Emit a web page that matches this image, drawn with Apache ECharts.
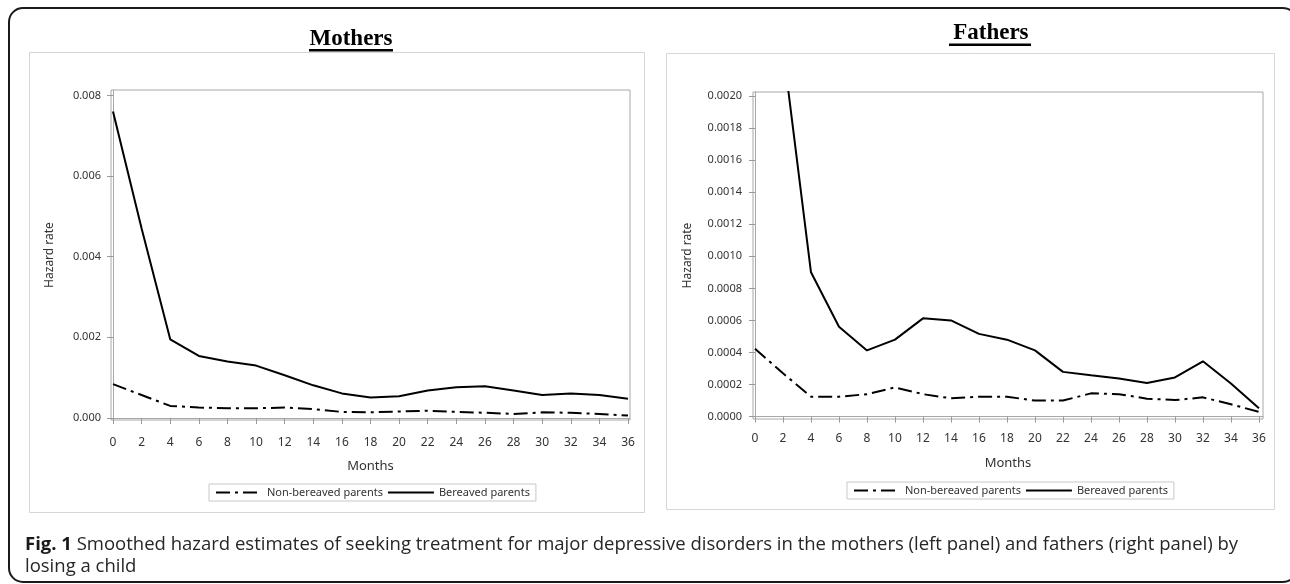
<!DOCTYPE html>
<html><head><meta charset="utf-8">
<script src="https://cdn.jsdelivr.net/npm/echarts@6/dist/echarts.min.js"></script>
<style>html,body{margin:0;padding:0;background:#fff}#c{width:1290px;height:584px}</style>
</head><body><div id="c"></div>
<script>
// ---- data ----
const months = [0,2,4,6,8,10,12,14,16,18,20,22,24,26,28,30,32,34,36];
const mothersNonBereaved = [0.00084,0.00057,0.00030,0.00026,0.00024,0.00024,0.00026,0.00022,0.00015,0.00014,0.00016,0.00018,0.00015,0.00013,0.00010,0.00014,0.00013,0.00010,0.00006];
const mothersBereaved = [0.0076,0.0047,0.00195,0.00154,0.00140,0.00130,0.00106,0.00081,0.00061,0.00051,0.00054,0.00068,0.00076,0.00079,0.00068,0.00057,0.00061,0.00057,0.00048];
const fathersNonBereaved = [0.000424,0.00027,0.000124,0.000124,0.00014,0.000182,0.00014,0.000114,0.000124,0.000124,0.0001,0.0001,0.000145,0.00014,0.000112,0.000103,0.00012,0.000077,0.000029];
const fathersBereaved = [0.0045,0.0023,0.0009,0.00056,0.000413,0.00048,0.000613,0.0006,0.000516,0.00048,0.000413,0.000279,0.000258,0.000238,0.00021,0.000244,0.000345,0.000207,0.000052];
const mothersYTicks = [0,0.002,0.004,0.006,0.008];
const fathersYTicks = [0,0.0002,0.0004,0.0006,0.0008,0.001,0.0012,0.0014,0.0016,0.0018,0.002];
const seriesNames = ['Non-bereaved parents','Bereaved parents'];
const panelTitles = ['Mothers',' Fathers'];
const axisTitles = {x:'Months', y:'Hazard rate'};
const captionBold = 'Fig. 1';
const captionLine1 = ' Smoothed hazard estimates of seeking treatment for major depressive disorders in the mothers (left panel) and fathers (right panel) by';
const captionLine2 = 'losing a child';

// ---- chart ----
const FONT = 'Noto Sans';
const chart = echarts.init(document.getElementById('c'), null, {renderer:'canvas'});
const pairs = arr => months.map((m,i)=>[m,arr[i]]);
const dashDot = [14,5,3,5];

function xAxis(idx, min, max, gap, margin){
  return {
    type:'value', gridIndex: idx, min, max,
    name: axisTitles.x, nameLocation:'middle', nameGap: gap,
    nameTextStyle:{fontFamily:FONT, fontSize:13, color:'#333'},
    axisLine:{show:true, lineStyle:{color:'#a8a8a8', width:1}},
    axisTick:{show:true, inside:false, length:6, customValues: months, lineStyle:{color:'#999'}},
    axisLabel:{show:true, customValues: months, margin, fontFamily:FONT, fontSize:12, color:'#333'},
    splitLine:{show:false}
  };
}
function yAxis(idx, min, max, ticks, dec, gap, margin){
  return {
    type:'value', gridIndex: idx, min, max,
    name: axisTitles.y, nameLocation:'middle', nameGap: gap,
    nameTextStyle:{fontFamily:FONT, fontSize:12, color:'#333'},
    axisLine:{show:true, lineStyle:{color:'#a8a8a8', width:1}},
    axisTick:{show:true, inside:false, length:6, customValues: ticks, lineStyle:{color:'#999'}},
    axisLabel:{show:true, customValues: ticks, margin, fontFamily:FONT, fontSize:11, color:'#333',
      formatter: v => Number(v).toFixed(dec)},
    splitLine:{show:false}
  };
}
function line(name, data, xi, dashed){
  return {
    type:'line', name, xAxisIndex:xi, yAxisIndex:xi, data: pairs(data),
    symbol:'none', clip:true, animation:false,
    lineStyle:{color:'#000', width:2, type: dashed ? dashDot : 'solid'},
    itemStyle:{color:'#000'}
  };
}
function legend(left, top){
  return {
    show:true, left, top, orient:'horizontal',
    data: seriesNames,
    borderColor:'#c8c8c8', borderWidth:1, padding:[3,6,3,6],
    itemWidth:46, itemHeight:10, itemGap:4,
    itemStyle:{color:'rgba(0,0,0,0)', borderColor:'rgba(0,0,0,0)', borderWidth:0, opacity:0},
    textStyle:{fontFamily:FONT, fontSize:11, color:'#333'},
    selectedMode:false
  };
}

const option = {
  backgroundColor:'#fff',
  animation:false,
  grid:[
    {left:111, top:90, width:519, height:330, show:true, borderColor:'#a8a8a8', borderWidth:1, containLabel:false, outerBoundsMode:'none'},
    {left:753, top:92, width:510, height:327, show:true, borderColor:'#a8a8a8', borderWidth:1, containLabel:false, outerBoundsMode:'none'}
  ],
  xAxis:[ xAxis(0, -0.14, 36.14, 40, 17), xAxis(1, -0.143, 36.29, 38, 14) ],
  yAxis:[ yAxis(0, -0.00005, 0.008136, mothersYTicks, 3, 55, 10),
          yAxis(1, -0.000015, 0.002025, fathersYTicks, 4, 59, 11) ],
  legend:[ legend(209, 484), legend(847, 482) ],
  series:[
    line(seriesNames[0], mothersNonBereaved, 0, true),
    line(seriesNames[1], mothersBereaved, 0, false),
    line(seriesNames[0], fathersNonBereaved, 1, true),
    line(seriesNames[1], fathersBereaved, 1, false)
  ],
  graphic:[
    {type:'rect', z:-10, shape:{x:9, y:8, width:1288, height:574, r:14}, style:{fill:'none', stroke:'#1a1a1a', lineWidth:2}},
    {type:'rect', z:-5, shape:{x:29.5, y:52.5, width:615, height:460}, style:{fill:'none', stroke:'#d6d6d6', lineWidth:1}},
    {type:'rect', z:-5, shape:{x:666.5, y:53.5, width:608, height:456}, style:{fill:'none', stroke:'#d6d6d6', lineWidth:1}},
    {type:'text', x:351, y:39, style:{text:panelTitles[0], font:'bold 23px "Liberation Serif"', fill:'#000', align:'center', verticalAlign:'middle', textAlign:'center', textVerticalAlign:'middle'}},
    {type:'rect', shape:{x:309, y:49, width:84, height:2.5}, style:{fill:'#000'}},
    {type:'text', x:988, y:33, style:{text:panelTitles[1], font:'bold 23px "Liberation Serif"', fill:'#000', align:'center', verticalAlign:'middle', textAlign:'center', textVerticalAlign:'middle'}},
    {type:'rect', shape:{x:949, y:43.5, width:82, height:2.5}, style:{fill:'#000'}},
    {type:'text', x:25, y:545, style:{text:'{b|'+captionBold+'}'+captionLine1, rich:{b:{fontWeight:'bold', fontFamily:'Open Sans', fontSize:18.5, fill:'#1a1a1a'}},
      fontFamily:'Open Sans', fontSize:18.5, fill:'#262626', align:'left', verticalAlign:'middle', textAlign:'left', textVerticalAlign:'middle'}},
    {type:'text', x:25, y:567, style:{text:captionLine2, fontFamily:'Open Sans', fontSize:18.5, fill:'#262626', align:'left', verticalAlign:'middle', textAlign:'left', textVerticalAlign:'middle'}}
  ]
};
chart.setOption(option);
</script></body></html>
